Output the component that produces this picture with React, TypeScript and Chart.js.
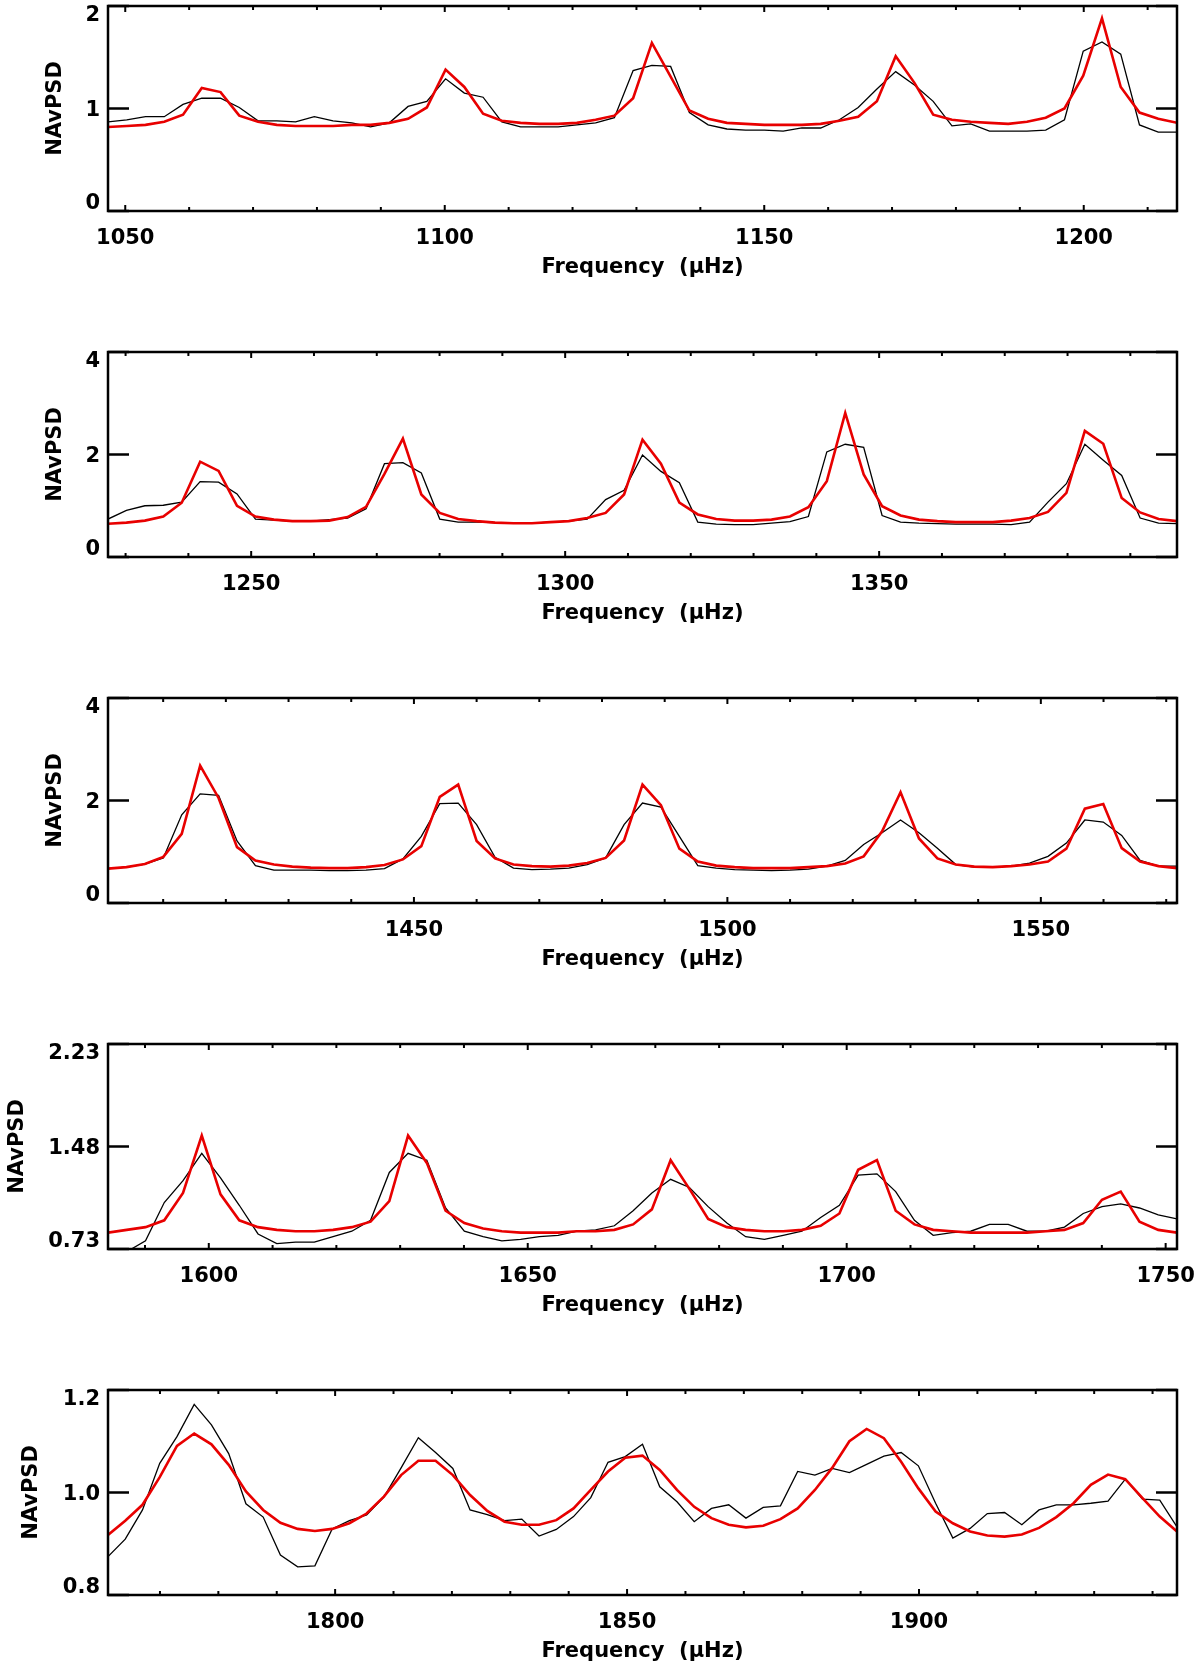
import React, { useEffect, useRef } from "react";
import { Chart, registerables } from "chart.js";

Chart.register(...registerables);

const FONT_FAMILY = "'DejaVu Sans', 'Noto Sans', sans-serif";
const FONT_SIZE = 21;
const RED = "rgb(232,0,0)";

// ---------------- Panel 1 ----------------
const p1FreqStart = 1047.3;
const p1FreqStep = 2.935;
const p1Observed = [
  0.87, 0.89, 0.92, 0.92, 1.04, 1.10, 1.10, 1.01, 0.88, 0.88, 0.87, 0.92, 0.88, 0.86, 0.82, 0.86, 1.02, 1.07, 1.29, 1.15,
  1.11, 0.87, 0.82, 0.82, 0.82, 0.84, 0.86, 0.91, 1.37, 1.42, 1.41, 0.96, 0.84, 0.80, 0.79, 0.79, 0.78, 0.81, 0.81, 0.89,
  1.01, 1.19, 1.36, 1.23, 1.07, 0.83, 0.85, 0.78, 0.78, 0.78, 0.79, 0.89, 1.56, 1.65, 1.53, 0.84, 0.77, 0.77,
];
const p1Model = [
  0.82, 0.83, 0.84, 0.87, 0.94, 1.20, 1.16, 0.93, 0.87, 0.84, 0.83, 0.83, 0.83, 0.84, 0.84, 0.86, 0.90, 1.01, 1.38, 1.21,
  0.95, 0.88, 0.86, 0.85, 0.85, 0.86, 0.89, 0.93, 1.10, 1.64, 1.31, 0.98, 0.90, 0.86, 0.85, 0.84, 0.84, 0.84, 0.85, 0.88,
  0.92, 1.07, 1.51, 1.25, 0.94, 0.89, 0.87, 0.86, 0.85, 0.87, 0.91, 1.00, 1.32, 1.88, 1.21, 0.96, 0.90, 0.86,
];
const p1XTicks = [1050, 1100, 1150, 1200];
const p1YTicks = [0, 1, 2];
const p1YLabels = ["0", "1", "2"];

// ---------------- Panel 2 ----------------
const p2FreqStart = 1227.2;
const p2FreqStep = 2.935;
const p2Observed = [
  0.74, 0.91, 1.00, 1.01, 1.07, 1.47, 1.46, 1.23, 0.74, 0.72, 0.70, 0.70, 0.73, 0.76, 0.94, 1.82, 1.84, 1.64, 0.74, 0.68,
  0.68, 0.67, 0.66, 0.66, 0.68, 0.70, 0.74, 1.12, 1.30, 1.99, 1.67, 1.45, 0.68, 0.64, 0.63, 0.63, 0.66, 0.69, 0.79, 2.05,
  2.20, 2.14, 0.81, 0.68, 0.66, 0.65, 0.64, 0.64, 0.64, 0.63, 0.68, 1.07, 1.43, 2.20, 1.89, 1.59, 0.76, 0.66, 0.65,
];
const p2Model = [
  0.65, 0.67, 0.71, 0.79, 1.06, 1.86, 1.68, 1.00, 0.79, 0.73, 0.70, 0.70, 0.71, 0.78, 0.98, 1.62, 2.31, 1.22, 0.86, 0.74,
  0.70, 0.67, 0.66, 0.66, 0.68, 0.70, 0.76, 0.86, 1.22, 2.29, 1.82, 1.06, 0.83, 0.74, 0.71, 0.71, 0.73, 0.79, 0.97, 1.48,
  2.81, 1.61, 0.99, 0.81, 0.73, 0.70, 0.68, 0.68, 0.68, 0.71, 0.76, 0.88, 1.25, 2.46, 2.21, 1.15, 0.87, 0.74, 0.70,
];
const p2XTicks = [1250, 1300, 1350];
const p2YTicks = [0, 2, 4];
const p2YLabels = ["0", "2", "4"];

// ---------------- Panel 3 ----------------
const p3FreqStart = 1401.2;
const p3FreqStep = 2.94;
const p3Observed = [
  0.67, 0.70, 0.76, 0.88, 1.72, 2.13, 2.10, 1.21, 0.73, 0.64, 0.64, 0.64, 0.63, 0.63, 0.64, 0.67, 0.86, 1.30, 1.94, 1.95,
  1.53, 0.89, 0.68, 0.65, 0.66, 0.68, 0.75, 0.88, 1.53, 1.95, 1.87, 1.30, 0.73, 0.68, 0.65, 0.64, 0.63, 0.64, 0.66, 0.72,
  0.83, 1.14, 1.37, 1.62, 1.37, 1.07, 0.75, 0.70, 0.70, 0.72, 0.78, 0.91, 1.17, 1.62, 1.58, 1.32, 0.83, 0.72, 0.72,
];
const p3Model = [
  0.67, 0.70, 0.76, 0.90, 1.35, 2.68, 2.05, 1.09, 0.83, 0.75, 0.71, 0.69, 0.68, 0.68, 0.70, 0.74, 0.85, 1.11, 2.07, 2.31,
  1.21, 0.87, 0.75, 0.72, 0.71, 0.73, 0.78, 0.88, 1.22, 2.31, 1.91, 1.06, 0.81, 0.73, 0.70, 0.68, 0.68, 0.68, 0.70, 0.72,
  0.77, 0.91, 1.40, 2.16, 1.26, 0.87, 0.75, 0.71, 0.70, 0.72, 0.75, 0.81, 1.06, 1.84, 1.93, 1.07, 0.81, 0.72, 0.68,
];
const p3XTicks = [1450, 1500, 1550];
const p3YTicks = [0, 2, 4];
const p3YLabels = ["0", "2", "4"];

// ---------------- Panel 4 ----------------
const p4FreqStart = 1584.2;
const p4FreqStep = 2.94;
const p4Observed = [
  0.68, 0.71, 0.79, 1.07, 1.23, 1.43, 1.25, 1.05, 0.84, 0.77, 0.78, 0.78, 0.82, 0.86, 0.94, 1.29, 1.43, 1.38, 1.03, 0.86,
  0.82, 0.79, 0.80, 0.82, 0.83, 0.86, 0.87, 0.90, 1.01, 1.14, 1.24, 1.18, 1.04, 0.92, 0.82, 0.80, 0.83, 0.86, 0.96, 1.05,
  1.27, 1.28, 1.15, 0.94, 0.83, 0.85, 0.86, 0.91, 0.91, 0.86, 0.86, 0.89, 0.99, 1.04, 1.06, 1.03, 0.98, 0.95,
];
const p4Model = [
  0.85, 0.87, 0.89, 0.94, 1.14, 1.56, 1.13, 0.94, 0.89, 0.87, 0.86, 0.86, 0.87, 0.89, 0.93, 1.08, 1.56, 1.36, 1.01, 0.92,
  0.88, 0.86, 0.85, 0.85, 0.85, 0.86, 0.86, 0.87, 0.91, 1.02, 1.38, 1.17, 0.95, 0.89, 0.87, 0.86, 0.86, 0.87, 0.90, 0.99,
  1.31, 1.38, 1.01, 0.91, 0.87, 0.86, 0.85, 0.85, 0.85, 0.85, 0.86, 0.87, 0.92, 1.09, 1.15, 0.93, 0.87, 0.85,
];
const p4XTicks = [1600, 1650, 1700, 1750];
const p4YTicks = [0.73, 1.48, 2.23];
const p4YLabels = ["0.73", "1.48", "2.23"];

// ---------------- Panel 5 ----------------
const p5FreqStart = 1761.1;
const p5FreqStep = 2.953;
const p5Observed = [
  0.875, 0.909, 0.966, 1.057, 1.109, 1.172, 1.132, 1.076, 0.978, 0.952, 0.878, 0.855, 0.857, 0.929, 0.945, 0.956, 0.991,
  1.048, 1.107, 1.078, 1.047, 0.966, 0.957, 0.945, 0.948, 0.915, 0.928, 0.953, 0.99, 1.059, 1.070, 1.094, 1.011, 0.982,
  0.943, 0.969, 0.976, 0.950, 0.971, 0.974, 1.041, 1.034, 1.047, 1.039, 1.055, 1.071, 1.078, 1.052, 0.979, 0.911, 0.930,
  0.959, 0.961, 0.937, 0.966, 0.976, 0.976, 0.979, 0.983, 1.026, 0.987, 0.985, 0.933,
];
const p5Model = [
  0.917, 0.945, 0.976, 1.030, 1.091, 1.115, 1.094, 1.054, 1.002, 0.966, 0.941, 0.929, 0.925, 0.929, 0.940, 0.959, 0.992,
  1.034, 1.062, 1.062, 1.034, 0.995, 0.964, 0.943, 0.937, 0.937, 0.946, 0.969, 1.005, 1.041, 1.068, 1.072, 1.044, 1.005,
  0.972, 0.950, 0.937, 0.932, 0.935, 0.948, 0.969, 1.005, 1.048, 1.100, 1.124, 1.106, 1.060, 1.008, 0.963, 0.940, 0.924,
  0.916, 0.914, 0.918, 0.931, 0.952, 0.979, 1.015, 1.035, 1.026, 0.989, 0.953, 0.924,
];
const p5XTicks = [1800, 1850, 1900];
const p5YTicks = [0.8, 1.0, 1.2];
const p5YLabels = ["0.8", "1.0", "1.2"];

const X_TITLE = "Frequency  (\u03BCHz)";
const Y_TITLE = "NAvPSD";

type Panel = {
  start: number;
  step: number;
  observed: number[];
  model: number[];
  xTicks: number[];
  yTicks: number[];
  yLabels: string[];
  yTitleCenter: number;
};

const panels: Panel[] = [
  { start: p1FreqStart, step: p1FreqStep, observed: p1Observed, model: p1Model, xTicks: p1XTicks, yTicks: p1YTicks, yLabels: p1YLabels, yTitleCenter: 56 },
  { start: p2FreqStart, step: p2FreqStep, observed: p2Observed, model: p2Model, xTicks: p2XTicks, yTicks: p2YTicks, yLabels: p2YLabels, yTitleCenter: 56 },
  { start: p3FreqStart, step: p3FreqStep, observed: p3Observed, model: p3Model, xTicks: p3XTicks, yTicks: p3YTicks, yLabels: p3YLabels, yTitleCenter: 56 },
  { start: p4FreqStart, step: p4FreqStep, observed: p4Observed, model: p4Model, xTicks: p4XTicks, yTicks: p4YTicks, yLabels: p4YLabels, yTitleCenter: 18 },
  { start: p5FreqStart, step: p5FreqStep, observed: p5Observed, model: p5Model, xTicks: p5XTicks, yTicks: p5YTicks, yLabels: p5YLabels, yTitleCenter: 32 },
];

const AREA_TOP = 6;
const AREA_HEIGHT = 205;
const AREA_LEFT = 108;
const AREA_RIGHT = 1177;
const PANEL_PITCH = 346;
const PAGE_W = 1200;
const PAGE_H = 1675;
const LINE_H = FONT_SIZE * 1.2;

function PanelChart({ panel, top, height }: { panel: Panel; top: number; height: number }) {
  const ref = useRef<HTMLCanvasElement>(null);

  useEffect(() => {
    const canvas = ref.current;
    if (!canvas) return;
    const xs = panel.observed.map((_, i) => panel.start + i * panel.step);
    const xMin = xs[0];
    const xMax = xs[xs.length - 1];
    const obs = panel.observed.map((v, i) => ({ x: xs[i], y: v }));
    const mod = panel.model.map((v, i) => ({ x: xs[i], y: v }));
    const yMin = panel.yTicks[0];
    const yMax = panel.yTicks[panel.yTicks.length - 1];
    const font = { family: FONT_FAMILY, size: FONT_SIZE, weight: "bold" as const, lineHeight: 1.2 };

    const framePlugin = {
      id: "idlFrame",
      afterDatasetsDraw(chart: any) {
        const { ctx, chartArea } = chart;
        const { left, right, top: t, bottom } = chartArea;
        const xs2 = chart.scales.x;
        const ys2 = chart.scales.y;
        ctx.save();
        ctx.strokeStyle = "#000";
        ctx.lineWidth = 2;
        ctx.lineCap = "butt";
        const firstMinor = Math.ceil(xMin / 10) * 10;
        for (let v = firstMinor; v <= xMax; v += 10) {
          const px = xs2.getPixelForValue(v);
          const isMajor = panel.xTicks.includes(v);
          const len = isMajor ? 6 : 4;
          ctx.beginPath();
          ctx.moveTo(px, bottom);
          ctx.lineTo(px, bottom - len);
          ctx.moveTo(px, t);
          ctx.lineTo(px, t + len);
          ctx.stroke();
        }
        ctx.lineWidth = 2.5;
        for (const v of panel.yTicks) {
          const py = ys2.getPixelForValue(v);
          ctx.beginPath();
          ctx.moveTo(left, py);
          ctx.lineTo(left + 21, py);
          ctx.moveTo(right, py);
          ctx.lineTo(right - 21, py);
          ctx.stroke();
        }
        ctx.lineWidth = 2.5;
        ctx.strokeRect(left, t, right - left, bottom - t);
        ctx.fillStyle = "#000";
        ctx.font = `bold ${FONT_SIZE}px ${FONT_FAMILY}`;
        ctx.textAlign = "right";
        ctx.textBaseline = "middle";
        const last = panel.yTicks.length - 1;
        panel.yTicks.forEach((v, i) => {
          let py = ys2.getPixelForValue(v);
          if (i === 0) py -= 7;
          else if (i === last) py += 10;
          else py += 2;
          ctx.fillText(panel.yLabels[i], left - 8, py);
        });
        ctx.restore();
      },
    };

    const chart = new Chart(canvas, {
      type: "line",
      data: {
        datasets: [
          { label: "model", data: mod, borderColor: RED, borderWidth: 2.6, pointRadius: 0, tension: 0, fill: false },
          { label: "observed", data: obs, borderColor: "#000", borderWidth: 1.3, pointRadius: 0, tension: 0, fill: false },
        ],
      },
      options: {
        animation: false,
        responsive: false,
        devicePixelRatio: 1,
        events: [],
        layout: { padding: { top: AREA_TOP, left: 0, right: PAGE_W - AREA_RIGHT, bottom: 0 } },
        plugins: { legend: { display: false }, tooltip: { enabled: false } },
        scales: {
          x: {
            type: "linear",
            position: "bottom",
            min: xMin,
            max: xMax,
            grid: { display: false, drawTicks: false },
            border: { display: false },
            ticks: {
              font,
              color: "#000",
              padding: 28 - LINE_H / 2,
              maxRotation: 0,
              autoSkip: false,
              callback: (v: any) => String(v),
            },
            afterBuildTicks: (s: any) => {
              s.ticks = panel.xTicks.map((v) => ({ value: v }));
            },
            afterFit: (s: any) => {
              s.height = height - AREA_TOP - AREA_HEIGHT;
              s.paddingLeft = 0;
              s.paddingRight = 0;
            },
            title: {
              display: true,
              text: X_TITLE,
              color: "#000",
              font,
              padding: { top: 0, bottom: height - LINE_H / 2 - (AREA_TOP + AREA_HEIGHT + 57) },
            },
          },
          y: {
            type: "linear",
            min: yMin,
            max: yMax,
            grid: { display: false, drawTicks: false },
            border: { display: false },
            ticks: { display: false },
            afterFit: (s: any) => {
              s.width = AREA_LEFT;
              s.paddingTop = 0;
              s.paddingBottom = 0;
            },
            title: {
              display: true,
              text: Y_TITLE,
              color: "#000",
              font,
              padding: { top: panel.yTitleCenter - LINE_H / 2, bottom: 0 },
            },
          },
        },
      },
      plugins: [framePlugin],
    } as any);
    return () => chart.destroy();
  }, [panel, height]);

  return (
    <canvas
      ref={ref}
      width={PAGE_W}
      height={height}
      style={{ position: "absolute", left: 0, top, width: PAGE_W, height, display: "block" }}
    />
  );
}

export default function App() {
  return (
    <div style={{ position: "absolute", left: 0, top: 0, width: PAGE_W, height: PAGE_H, background: "#fff" }}>
      {panels.map((p, i) => {
        const top = i * PANEL_PITCH;
        const height = Math.min(PANEL_PITCH, PAGE_H - top);
        return <PanelChart key={i} panel={p} top={top} height={height} />;
      })}
    </div>
  );
}
